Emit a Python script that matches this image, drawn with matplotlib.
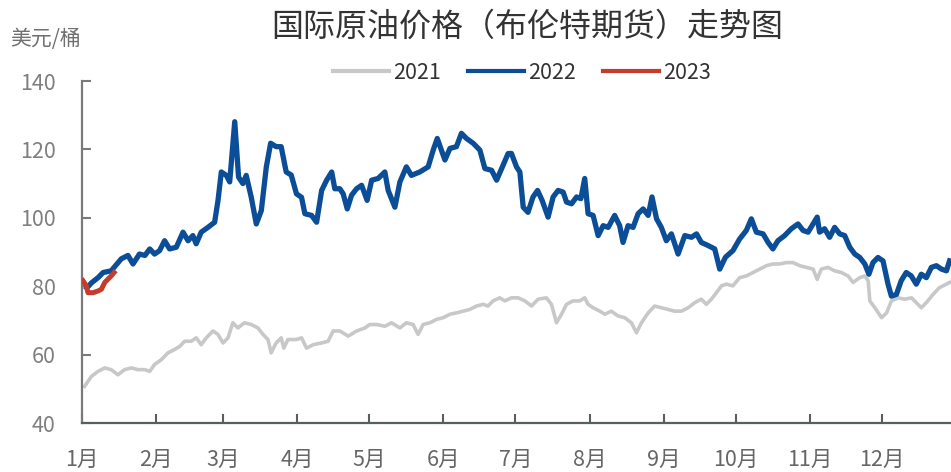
import matplotlib
matplotlib.use("Agg")
import matplotlib.pyplot as plt

plt.rcParams['font.family'] = ['Noto Sans CJK SC', 'DejaVu Sans']

# ---------------- data (day of year, price USD/bbl) ----------------
title = "国际原油价格（布伦特期货）走势图"
unit_label = "美元/桶"
month_labels = ["1月", "2月", "3月", "4月", "5月", "6月",
                "7月", "8月", "9月", "10月", "11月", "12月"]
month_start_days = [0, 31, 59, 90, 120, 151, 181, 212, 243, 273, 304, 334]

days_2021 = [1.1, 3.9, 6.7, 9.5, 12.2, 15, 17.8, 20.6, 23.4, 26.2, 28.3, 30.3,
             33.1, 35.9, 38.7, 40.8, 42.9, 45.6, 47.7, 49.8, 51.9, 54.7, 56.8,
             58.9, 61, 63, 65.1, 67.9, 70.7, 73.5, 75.6, 77.7, 79, 81.1, 83.2,
             84.3, 86, 89.6, 91.7, 93.8, 96.6, 100.1, 102.8, 104.9, 107.7,
             111.2, 114.7, 118.2, 120.2, 123, 126.5, 129.3, 132.8, 135.5,
             138.3, 140.4, 142.5, 145.3, 148.1, 150.9, 153.7, 156.4, 159.2,
             162, 164.8, 167.6, 169.6, 171.7, 174.5, 176.6, 179.4, 182.2, 185,
             187.8, 190.5, 194, 196.1, 198.2, 200.3, 202.4, 205.1, 207.9, 210,
             211.4, 213.5, 216.3, 218.4, 221.1, 223.9, 226.7, 229.5, 231.6,
             233.7, 236.5, 239.2, 242, 244.8, 247.6, 250.4, 253.2, 256, 258.7,
             260.8, 262.9, 265, 267.1, 269.2, 271.9, 274.7, 277.5, 280.3,
             283.1, 285.9, 288.6, 291.4, 294.2, 297, 299.8, 302.6, 305.4,
             307.1, 308.8, 311.6, 314.4, 317.2, 320, 322.1, 324.9, 327, 328.4,
             329.1, 331.2, 334, 336.1, 338.1, 340.9, 343.7, 346.5, 348.5,
             350.6, 352.7, 355.5, 358.2, 361.1, 362.4]
price_2021 = [50.7, 53.6, 55.1, 56.1, 55.6, 54.1, 55.6, 56.1, 55.6, 55.6, 55.1,
              57.1, 58.5, 60.5, 61.5, 62.4, 63.9, 63.9, 64.9, 62.9, 64.9, 66.9,
              65.9, 63.4, 64.9, 69.3, 67.8, 69.3, 68.8, 67.8, 65.9, 64.4, 60.5,
              63.4, 64.9, 61.9, 64.4, 64.4, 64.9, 61.9, 62.9, 63.4, 63.9, 66.9,
              66.9, 65.4, 66.9, 67.8, 68.8, 68.8, 68.3, 69.3, 67.8, 69.3, 68.8,
              65.9, 68.8, 69.3, 70.3, 70.8, 71.8, 72.2, 72.7, 73.2, 74.2, 74.7,
              74.2, 75.7, 76.6, 75.7, 76.6, 76.6, 75.7, 74.2, 76.2, 76.6, 74.7,
              69.3, 71.8, 74.7, 75.7, 75.7, 76.6, 74.7, 73.7, 72.7, 71.8, 72.7,
              71.3, 70.8, 69.3, 66.4, 69.3, 72.2, 74.2, 73.7, 73.2, 72.7, 72.7,
              73.7, 75.2, 76.2, 74.7, 76.2, 78.1, 80.1, 80.6, 80.1, 82.5, 83.0,
              84.0, 85.0, 86.0, 86.5, 86.5, 86.9, 86.9, 86.0, 85.5, 85.0, 82.0,
              85.0, 85.5, 84.5, 84.0, 83.0, 81.1, 82.5, 83.0, 81.6, 75.7, 73.7,
              70.8, 72.2, 75.7, 76.6, 76.2, 76.6, 75.2, 73.7, 75.2, 77.6, 79.6,
              80.6, 81.1]

days_2022 = [2.0, 4.0, 6.7, 8.8, 12.2, 16.4, 19.2, 21.3, 24, 26.3, 28.3, 30.3,
             32.4, 34.5, 36.6, 39.4, 42.2, 44.3, 46.3, 47.7, 49.8, 52.6, 55.4,
             56.8, 58.2, 60.3, 61.7, 63.8, 65.4, 67.2, 68.6, 70.7, 72.8, 74.9,
             77, 78.8, 81.1, 83.2, 85.3, 87.4, 89.6, 91.7, 93.1, 95.9, 98,
             100.1, 102.2, 104.3, 105.6, 107.7, 109.1, 110.8, 112.6, 114.7,
             116.8, 119.1, 121, 123.7, 126.5, 127.9, 130.7, 132.8, 135.5,
             137.6, 141.1, 144.6, 146.7, 148.4, 151.6, 153.7, 156.4, 158.5,
             160.6, 163.4, 166.2, 168.3, 171.1, 173.2, 175.9, 178, 179.4,
             181.5, 182.9, 184.3, 186.3, 188.4, 190.3, 192.2, 194.7, 196.8,
             198.9, 201, 202.4, 204.5, 206.6, 208.4, 210, 211.4, 213.5, 215.6,
             217.7, 219.8, 222.5, 224.6, 226, 228.1, 230.2, 232.3, 234.4,
             236.5, 238.1, 240, 242, 244.1, 246.2, 249, 251.8, 254.6, 256.7,
             258.7, 261.5, 264.3, 266.4, 268.8, 271.9, 274.7, 277.5, 279.6,
             281.7, 284.5, 286.6, 288.6, 290.7, 293.5, 296.3, 299.1, 301.2,
             303.3, 305.4, 307.1, 308.1, 310.2, 312.3, 314.4, 316.5, 318.6,
             320.7, 322.8, 324.9, 327, 328.7, 330.4, 332.5, 334.6, 336.7,
             338.1, 340.2, 342.2, 344.3, 346.4, 348.5, 350.6, 352.7, 354.8,
             356.9, 359, 361.1, 362.4]
price_2022 = [79.5, 81.0, 82.5, 84.0, 84.5, 88.0, 89.0, 86.5, 89.4, 89.0, 90.9,
              89.4, 90.4, 93.3, 90.9, 91.4, 95.8, 93.3, 94.8, 92.4, 95.8, 97.2,
              98.7, 105.0, 113.4, 112.4, 110.5, 128.1, 111.9, 110.0, 112.4,
              106.0, 98.2, 102.1, 114.9, 121.8, 120.8, 120.8, 113.4, 112.5,
              107.0, 106.0, 101.2, 100.7, 98.7, 108.0, 111.0, 113.4, 108.5,
              108.5, 107.0, 102.6, 106.6, 108.5, 109.5, 105.1, 111.0, 111.5,
              113.4, 108.0, 103.1, 110.5, 114.9, 112.4, 113.4, 114.9, 119.8,
              123.2, 116.9, 120.3, 120.8, 124.7, 123.2, 121.8, 119.8, 114.4,
              113.9, 111.0, 115.4, 118.8, 118.8, 114.9, 113.4, 103.1, 101.6,
              106.1, 108.0, 105.1, 100.2, 106.1, 108.0, 107.5, 104.6, 104.1,
              106.1, 105.6, 111.5, 101.2, 100.7, 94.8, 97.7, 97.2, 100.7, 97.7,
              92.8, 97.7, 97.2, 101.2, 102.6, 100.7, 106.1, 99.7, 97.2, 93.3,
              95.3, 89.4, 94.8, 94.3, 95.3, 92.8, 91.9, 90.9, 85.0, 88.5, 90.4,
              93.8, 96.3, 99.7, 95.8, 95.3, 92.8, 90.9, 93.3, 94.8, 96.8, 98.2,
              96.3, 95.8, 98.2, 100.2, 95.8, 96.8, 94.3, 97.2, 95.3, 94.8, 91.4,
              89.4, 88.4, 86.5, 83.5, 86.9, 88.4, 87.4, 80.6, 77.1, 77.6, 81.6,
              84.0, 83.0, 80.6, 83.5, 82.5, 85.5, 86.0, 85.0, 84.5, 87.4]

days_2023 = [0.4, 1.8, 2.5, 4.6, 6.7, 8.1, 9.5, 10.9, 12.2, 13.4]
price_2023 = [81.6, 80.1, 78.1, 78.1, 78.6, 79.1, 81.1, 82.1, 83.0, 84.0]

series_labels = ["2021", "2022", "2023"]
y_ticks = [40, 60, 80, 100, 120, 140]

# ---------------- figure ----------------
W, H = 951, 472
fig = plt.figure(figsize=(W / 100, H / 100), dpi=100)
ax = fig.add_axes([82 / W, 49 / H, (W - 82) / W, (423 - 81) / H])

c2021, c2022, c2023 = "#c8c8c8", "#0b4d97", "#c43c2c"
ax.plot(days_2021, price_2021, color=c2021, lw=2.6, label=series_labels[0],
        zorder=2, solid_joinstyle="round")
ax.plot(days_2022, price_2022, color=c2022, lw=3.8, label=series_labels[1],
        zorder=3, solid_joinstyle="round")
ax.plot(days_2023, price_2023, color=c2023, lw=3.6, label=series_labels[2],
        zorder=4, solid_joinstyle="round")

ax.set_xlim(0, 363)
ax.set_ylim(40, 140)
ax.set_xticks(month_start_days)
ax.set_xticklabels(month_labels)
ax.set_yticks(y_ticks)

for s in ("top", "right"):
    ax.spines[s].set_visible(False)
ax.spines["left"].set_color("#7a7a7a")
ax.spines["left"].set_linewidth(1.6)
ax.spines["bottom"].set_color("#56605e")
ax.spines["bottom"].set_linewidth(1.6)

ax.tick_params(axis="y", direction="in", length=6.5, width=1.5,
               color="#7a7a7a", labelcolor="#7f7f7f", labelsize=15.5, pad=19)
ax.tick_params(axis="x", direction="in", length=6.5, width=1.5,
               color="#56605e", labelcolor="#666666", labelsize=15.5, pad=19)

fig.text(527 / W, 1 - 27 / H, title, ha="center", va="center",
         fontsize=23, color="#333333")
fig.text(10 / W, 1 - 39 / H, unit_label, ha="left", va="center",
         fontsize=15, color="#707070")

leg = fig.legend(loc="center", bbox_to_anchor=(522 / W, 1 - 73 / H), ncol=3,
                 frameon=False, fontsize=15.5, handlelength=2.6,
                 handletextpad=0.15, columnspacing=1.3, labelcolor="#333333")
for line in leg.get_lines():
    line.set_linewidth(3.0)

fig.savefig("out.png", dpi=100)
